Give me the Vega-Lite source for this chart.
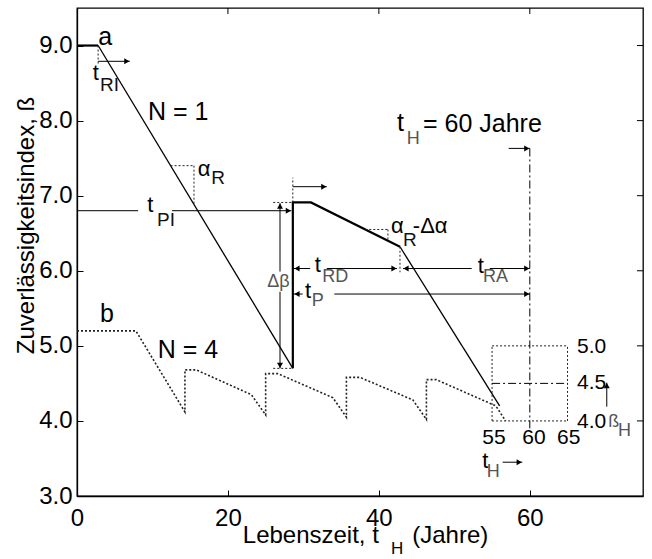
{
  "$schema": "https://vega.github.io/schema/vega-lite/v6.json",
  "width": 566,
  "height": 488,
  "autosize": {"type": "none"},
  "padding": {"left": 77, "top": 8, "right": 9, "bottom": 63},
  "background": "white",
  "config": {
    "font": "Liberation Sans",
    "view": {"stroke": "#000", "strokeWidth": 1.3},
    "axis": {"grid": false, "domainColor": "#000", "domainWidth": 1.3, "tickColor": "#000", "tickWidth": 1, "labelColor": "#000", "titleColor": "#000", "labelFont": "Liberation Sans", "titleFont": "Liberation Sans", "labelFontSize": 24, "titleFontSize": 24, "titleFontWeight": "normal", "labelFlush": false, "labelOverlap": false, "labelBound": false}
  },
  "datasets": {
    "kurven": [
      {"part": "a0", "i": 0, "x": 0, "y": 9.0},
      {"part": "a0", "i": 1, "x": 2.8, "y": 9.0},
      {"part": "a1", "i": 0, "x": 2.8, "y": 9.0},
      {"part": "a1", "i": 1, "x": 28.6, "y": 4.7},
      {"part": "a2", "i": 0, "x": 28.6, "y": 4.7},
      {"part": "a2", "i": 1, "x": 28.6, "y": 6.91},
      {"part": "a2", "i": 2, "x": 31.0, "y": 6.91},
      {"part": "a2", "i": 3, "x": 42.8, "y": 6.32},
      {"part": "a3", "i": 0, "x": 42.8, "y": 6.32},
      {"part": "a3", "i": 1, "x": 56.0, "y": 4.2},
      {"part": "b", "i": 0, "x": 0, "y": 5.2},
      {"part": "b", "i": 1, "x": 7.8, "y": 5.2},
      {"part": "b", "i": 2, "x": 14.3, "y": 4.12},
      {"part": "b", "i": 3, "x": 14.3, "y": 4.68},
      {"part": "b", "i": 4, "x": 15.8, "y": 4.68},
      {"part": "b", "i": 5, "x": 23.1, "y": 4.35},
      {"part": "b", "i": 6, "x": 25.0, "y": 4.08},
      {"part": "b", "i": 7, "x": 25.0, "y": 4.63},
      {"part": "b", "i": 8, "x": 26.6, "y": 4.63},
      {"part": "b", "i": 9, "x": 33.9, "y": 4.31},
      {"part": "b", "i": 10, "x": 35.7, "y": 4.05},
      {"part": "b", "i": 11, "x": 35.7, "y": 4.58},
      {"part": "b", "i": 12, "x": 37.5, "y": 4.58},
      {"part": "b", "i": 13, "x": 44.5, "y": 4.28},
      {"part": "b", "i": 14, "x": 46.3, "y": 4.02},
      {"part": "b", "i": 15, "x": 46.3, "y": 4.55},
      {"part": "b", "i": 16, "x": 47.6, "y": 4.55},
      {"part": "b", "i": 17, "x": 55.5, "y": 4.2},
      {"part": "b", "i": 18, "x": 56.8, "y": 4.0}
    ],
    "pfeillinien": [
      {"x": 2.8, "y": 8.79, "x2": 7.0, "y2": 8.79},
      {"x": 0, "y": 6.8, "x2": 8.1, "y2": 6.8},
      {"x": 12.6, "y": 6.8, "x2": 28.4, "y2": 6.8},
      {"x": 26.9, "y": 6.9, "x2": 26.9, "y2": 5.99},
      {"x": 26.9, "y": 5.72, "x2": 26.9, "y2": 4.7},
      {"x": 28.6, "y": 7.12, "x2": 33.1, "y2": 7.12},
      {"x": 28.6, "y": 6.03, "x2": 30.9, "y2": 6.03},
      {"x": 33.1, "y": 6.03, "x2": 42.4, "y2": 6.03},
      {"x": 43.2, "y": 6.03, "x2": 52.3, "y2": 6.03},
      {"x": 54.7, "y": 6.03, "x2": 60, "y2": 6.03},
      {"x": 28.6, "y": 5.69, "x2": 29.9, "y2": 5.69},
      {"x": 34.1, "y": 5.69, "x2": 60, "y2": 5.69},
      {"x": 57.2, "y": 7.63, "x2": 60, "y2": 7.63},
      {"x": 70.2, "y": 4.19, "x2": 70.2, "y2": 4.51},
      {"x": 56.4, "y": 3.45, "x2": 59.0, "y2": 3.45}
    ],
    "punktlinien": [
      {"x": 2.8, "y": 9.0, "x2": 2.8, "y2": 8.75},
      {"x": 12.4, "y": 7.4, "x2": 15.5, "y2": 7.4},
      {"x": 15.5, "y": 7.4, "x2": 15.5, "y2": 6.88},
      {"x": 26.0, "y": 6.91, "x2": 28.6, "y2": 6.91},
      {"x": 26.0, "y": 4.7, "x2": 28.6, "y2": 4.7},
      {"x": 28.6, "y": 6.91, "x2": 28.6, "y2": 7.24},
      {"x": 38.2, "y": 6.55, "x2": 41.2, "y2": 6.55},
      {"x": 41.2, "y": 6.55, "x2": 41.2, "y2": 6.4},
      {"x": 42.8, "y": 6.32, "x2": 42.8, "y2": 5.98},
      {"x": 55, "y": 4, "x2": 65, "y2": 4},
      {"x": 55, "y": 5, "x2": 65, "y2": 5},
      {"x": 55, "y": 4, "x2": 55, "y2": 5},
      {"x": 65, "y": 4, "x2": 65, "y2": 5}
    ],
    "strichpunkt": [
      {"x": 60, "y": 3.9, "x2": 60, "y2": 7.63},
      {"x": 55, "y": 4.5, "x2": 65, "y2": 4.5}
    ],
    "rahmenticks": [
      {"x": 20, "y": 9.5, "x2": 20, "y2": 9.42},
      {"x": 40, "y": 9.5, "x2": 40, "y2": 9.42},
      {"x": 60, "y": 9.5, "x2": 60, "y2": 9.42},
      {"x": 75, "y": 4, "x2": 74.2, "y2": 4},
      {"x": 75, "y": 5, "x2": 74.2, "y2": 5},
      {"x": 75, "y": 6, "x2": 74.2, "y2": 6},
      {"x": 75, "y": 7, "x2": 74.2, "y2": 7},
      {"x": 75, "y": 8, "x2": 74.2, "y2": 8},
      {"x": 75, "y": 9, "x2": 74.2, "y2": 9}
    ],
    "spitzen_rechts": [
      {"x": 7.0, "y": 8.79}, {"x": 28.4, "y": 6.8}, {"x": 33.1, "y": 7.12}, {"x": 42.4, "y": 6.03},
      {"x": 60, "y": 6.03}, {"x": 60, "y": 5.69}, {"x": 60, "y": 7.63}, {"x": 59.0, "y": 3.45}
    ],
    "spitzen_links": [
      {"x": 28.75, "y": 6.03}, {"x": 43.2, "y": 6.03}, {"x": 28.75, "y": 5.69}
    ],
    "spitzen_oben": [
      {"x": 26.9, "y": 6.9}, {"x": 70.2, "y": 4.51}
    ],
    "spitzen_unten": [
      {"x": 26.9, "y": 4.7}
    ],
    "texte_gross": [
      {"x": 2.8, "y": 9.11, "label": "a"},
      {"x": 9.4, "y": 8.12, "label": "N = 1"},
      {"x": 10.7, "y": 4.95, "label": "N = 4"},
      {"x": 3.05, "y": 5.43, "label": "b"},
      {"x": 42.4, "y": 7.97, "label": "t"},
      {"x": 45.85, "y": 7.95, "label": "= 60 Jahre"}
    ],
    "texte_mittel": [
      {"x": 2.1, "y": 8.63, "label": "t"},
      {"x": 9.3, "y": 6.87, "label": "t"},
      {"x": 16.0, "y": 7.36, "label": "α"},
      {"x": 41.6, "y": 6.59, "label": "α"},
      {"x": 44.5, "y": 6.6, "label": "-Δα"},
      {"x": 31.5, "y": 6.08, "label": "t"},
      {"x": 53.1, "y": 6.07, "label": "t"},
      {"x": 30.2, "y": 5.73, "label": "t"},
      {"x": 53.7, "y": 3.47, "label": "t"}
    ],
    "index_schwarz": [
      {"x": 3.05, "y": 8.47, "label": "RI"},
      {"x": 10.6, "y": 6.68, "label": "PI"},
      {"x": 17.8, "y": 7.23, "label": "R"},
      {"x": 43.2, "y": 6.41, "label": "R"}
    ],
    "index_grau": [
      {"x": 32.5, "y": 5.92, "label": "RD"},
      {"x": 53.8, "y": 5.92, "label": "RA"},
      {"x": 31.1, "y": 5.6, "label": "P"},
      {"x": 43.7, "y": 7.75, "label": "H"},
      {"x": 54.3, "y": 3.32, "label": "H"},
      {"x": 70.4, "y": 3.99, "label": "ß"},
      {"x": 71.7, "y": 3.87, "label": "H"},
      {"x": 25.2, "y": 5.85, "label": "Δβ"}
    ],
    "zahlen": [
      {"x": 66.25, "y": 4.99, "label": "5.0"},
      {"x": 66.25, "y": 4.51, "label": "4.5"},
      {"x": 66.25, "y": 3.99, "label": "4.0"},
      {"x": 53.7, "y": 3.77, "label": "55"},
      {"x": 59.0, "y": 3.77, "label": "60"},
      {"x": 63.6, "y": 3.77, "label": "65"}
    ],
    "achsentitel_index": [
      {"x": 41.6, "y": 3.0, "label": "H"}
    ]
  },
  "encoding": {
    "x": {
      "field": "x", "type": "quantitative",
      "scale": {"domain": [0, 75], "nice": false, "zero": false},
      "axis": {
        "values": [0, 20, 40, 60], "format": "d", "tickSize": -6, "labelPadding": 16,
        "title": "Lebenszeit, t\u00a0\u00a0\u00a0\u00a0\u00a0(Jahre)",
        "titleX": 288, "titleY": 46, "titleBaseline": "alphabetic", "titleAlign": "center"
      }
    },
    "y": {
      "field": "y", "type": "quantitative",
      "scale": {"domain": [3, 9.5], "nice": false, "zero": false},
      "axis": {
        "values": [3, 4, 5, 6, 7, 8, 9], "format": ".1f", "tickSize": -6, "labelPadding": 11,
        "title": "Zuverlässigkeitsindex, ß",
        "titleX": -44, "titleY": 217, "titleAngle": 270, "titleBaseline": "alphabetic", "titleAlign": "center"
      }
    }
  },
  "layer": [
    {
      "data": {"name": "kurven"},
      "transform": [{"filter": "datum.part === 'a1' || datum.part === 'a3'"}],
      "mark": {"type": "line", "color": "#000", "strokeWidth": 1.3},
      "encoding": {"order": {"field": "i", "type": "quantitative"}, "detail": {"field": "part"}}
    },
    {
      "data": {"name": "kurven"},
      "transform": [{"filter": "datum.part === 'a0' || datum.part === 'a2'"}],
      "mark": {"type": "line", "color": "#000", "strokeWidth": 2.2},
      "encoding": {"order": {"field": "i", "type": "quantitative"}, "detail": {"field": "part"}}
    },
    {
      "data": {"name": "kurven"},
      "transform": [{"filter": "datum.part === 'b'"}],
      "mark": {"type": "line", "color": "#222", "strokeWidth": 1.6, "strokeDash": [2, 2]},
      "encoding": {"order": {"field": "i", "type": "quantitative"}}
    },
    {
      "data": {"name": "pfeillinien"},
      "mark": {"type": "rule", "color": "#000", "strokeWidth": 1},
      "encoding": {"x2": {"field": "x2"}, "y2": {"field": "y2"}}
    },
    {
      "data": {"name": "punktlinien"},
      "mark": {"type": "rule", "color": "#222", "strokeWidth": 1, "strokeDash": [2, 2]},
      "encoding": {"x2": {"field": "x2"}, "y2": {"field": "y2"}}
    },
    {
      "data": {"name": "strichpunkt"},
      "mark": {"type": "rule", "color": "#000", "strokeWidth": 1, "strokeDash": [8, 3, 2, 3]},
      "encoding": {"x2": {"field": "x2"}, "y2": {"field": "y2"}}
    },
    {
      "data": {"name": "rahmenticks"},
      "mark": {"type": "rule", "color": "#000", "strokeWidth": 1},
      "encoding": {"x2": {"field": "x2"}, "y2": {"field": "y2"}}
    },
    {
      "data": {"name": "spitzen_rechts"},
      "mark": {"type": "point", "shape": "triangle-right", "filled": true, "color": "#000", "size": 36, "opacity": 1, "xOffset": -3},
      "encoding": {}
    },
    {
      "data": {"name": "spitzen_links"},
      "mark": {"type": "point", "shape": "triangle-left", "filled": true, "color": "#000", "size": 36, "opacity": 1, "xOffset": 3},
      "encoding": {}
    },
    {
      "data": {"name": "spitzen_oben"},
      "mark": {"type": "point", "shape": "triangle-up", "filled": true, "color": "#000", "size": 36, "opacity": 1, "yOffset": 3},
      "encoding": {}
    },
    {
      "data": {"name": "spitzen_unten"},
      "mark": {"type": "point", "shape": "triangle-down", "filled": true, "color": "#000", "size": 36, "opacity": 1, "yOffset": -3},
      "encoding": {}
    },
    {
      "data": {"name": "texte_gross"},
      "mark": {"type": "text", "align": "left", "baseline": "middle", "fontSize": 25, "color": "#000"},
      "encoding": {"text": {"field": "label"}}
    },
    {
      "data": {"name": "texte_mittel"},
      "mark": {"type": "text", "align": "left", "baseline": "middle", "fontSize": 22, "color": "#000"},
      "encoding": {"text": {"field": "label"}}
    },
    {
      "data": {"name": "index_schwarz"},
      "mark": {"type": "text", "align": "left", "baseline": "middle", "fontSize": 19, "color": "#111"},
      "encoding": {"text": {"field": "label"}}
    },
    {
      "data": {"name": "index_grau"},
      "mark": {"type": "text", "align": "left", "baseline": "middle", "fontSize": 18, "color": "#555"},
      "encoding": {"text": {"field": "label"}}
    },
    {
      "data": {"name": "zahlen"},
      "mark": {"type": "text", "align": "left", "baseline": "middle", "fontSize": 21, "color": "#000"},
      "encoding": {"text": {"field": "label"}}
    },
    {
      "data": {"name": "achsentitel_index"},
      "mark": {"type": "text", "align": "left", "baseline": "middle", "fontSize": 17, "color": "#000", "dy": 53},
      "encoding": {"text": {"field": "label"}}
    }
  ]
}
